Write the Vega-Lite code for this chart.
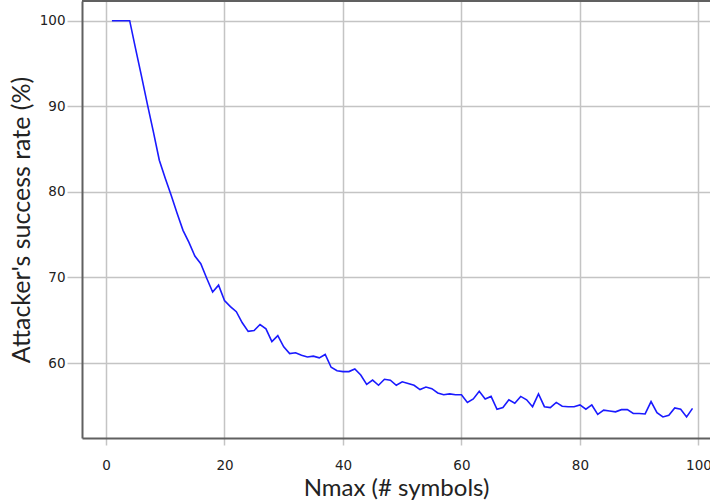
{
  "$schema": "https://vega.github.io/schema/vega-lite/v6.json",
  "autosize": {"type": "none"},
  "padding": {"left": 82, "top": 1, "right": 0, "bottom": 65},
  "width": 628,
  "height": 437,
  "background": "white",
  "config": {
    "view": {"stroke": null},
    "axis": {
      "gridColor": "#c4c4c4",
      "gridWidth": 1.5,
      "tickColor": "#c4c4c4",
      "tickWidth": 1.5,
      "domainColor": "#606060",
      "domainWidth": 2,
      "labelFont": "DejaVu Sans",
      "labelFontSize": 13.5,
      "labelColor": "#222222",
      "titleFont": "Lato",
      "titleFontWeight": "normal",
      "titleFontSize": 25,
      "titleColor": "#222222"
    }
  },
  "data": {
    "values": [
      {"n": 1, "rate": 100}, {"n": 2, "rate": 100}, {"n": 3, "rate": 100}, {"n": 4, "rate": 100},
      {"n": 5, "rate": 96.7}, {"n": 6, "rate": 93.5}, {"n": 7, "rate": 90.2}, {"n": 8, "rate": 87.0},
      {"n": 9, "rate": 83.7}, {"n": 10, "rate": 81.6}, {"n": 11, "rate": 79.6}, {"n": 12, "rate": 77.5},
      {"n": 13, "rate": 75.5}, {"n": 14, "rate": 74.1}, {"n": 15, "rate": 72.5}, {"n": 16, "rate": 71.6},
      {"n": 17, "rate": 69.9}, {"n": 18, "rate": 68.3}, {"n": 19, "rate": 69.1}, {"n": 20, "rate": 67.3},
      {"n": 21, "rate": 66.6}, {"n": 22, "rate": 66.0}, {"n": 23, "rate": 64.7}, {"n": 24, "rate": 63.7},
      {"n": 25, "rate": 63.8}, {"n": 26, "rate": 64.5}, {"n": 27, "rate": 64.0}, {"n": 28, "rate": 62.5},
      {"n": 29, "rate": 63.2}, {"n": 30, "rate": 61.9}, {"n": 31, "rate": 61.1}, {"n": 32, "rate": 61.2},
      {"n": 33, "rate": 60.9}, {"n": 34, "rate": 60.7}, {"n": 35, "rate": 60.8}, {"n": 36, "rate": 60.6},
      {"n": 37, "rate": 61.0}, {"n": 38, "rate": 59.5}, {"n": 39, "rate": 59.1}, {"n": 40, "rate": 59.0},
      {"n": 41, "rate": 59.0}, {"n": 42, "rate": 59.3}, {"n": 43, "rate": 58.6}, {"n": 44, "rate": 57.5},
      {"n": 45, "rate": 58.0}, {"n": 46, "rate": 57.4}, {"n": 47, "rate": 58.1}, {"n": 48, "rate": 58.0},
      {"n": 49, "rate": 57.4}, {"n": 50, "rate": 57.8}, {"n": 51, "rate": 57.6}, {"n": 52, "rate": 57.4},
      {"n": 53, "rate": 56.9}, {"n": 54, "rate": 57.2}, {"n": 55, "rate": 57.0}, {"n": 56, "rate": 56.5},
      {"n": 57, "rate": 56.3}, {"n": 58, "rate": 56.4}, {"n": 59, "rate": 56.3}, {"n": 60, "rate": 56.3},
      {"n": 61, "rate": 55.4}, {"n": 62, "rate": 55.8}, {"n": 63, "rate": 56.7}, {"n": 64, "rate": 55.8},
      {"n": 65, "rate": 56.1}, {"n": 66, "rate": 54.6}, {"n": 67, "rate": 54.8}, {"n": 68, "rate": 55.7},
      {"n": 69, "rate": 55.3}, {"n": 70, "rate": 56.1}, {"n": 71, "rate": 55.7}, {"n": 72, "rate": 54.9},
      {"n": 73, "rate": 56.4}, {"n": 74, "rate": 54.9}, {"n": 75, "rate": 54.8}, {"n": 76, "rate": 55.4},
      {"n": 77, "rate": 54.95}, {"n": 78, "rate": 54.9}, {"n": 79, "rate": 54.9}, {"n": 80, "rate": 55.1},
      {"n": 81, "rate": 54.6}, {"n": 82, "rate": 55.1}, {"n": 83, "rate": 54.0}, {"n": 84, "rate": 54.5},
      {"n": 85, "rate": 54.4}, {"n": 86, "rate": 54.3}, {"n": 87, "rate": 54.55}, {"n": 88, "rate": 54.55},
      {"n": 89, "rate": 54.1}, {"n": 90, "rate": 54.1}, {"n": 91, "rate": 54.05}, {"n": 92, "rate": 55.5},
      {"n": 93, "rate": 54.2}, {"n": 94, "rate": 53.7}, {"n": 95, "rate": 53.9}, {"n": 96, "rate": 54.75},
      {"n": 97, "rate": 54.6}, {"n": 98, "rate": 53.7}, {"n": 99, "rate": 54.7}
    ]
  },
  "layer": [
    {
      "mark": {"type": "line", "color": "#1a1aff", "strokeWidth": 1.6, "clip": true},
      "encoding": {
        "x": {
          "field": "n", "type": "quantitative",
          "scale": {"domain": [-4.05, 101.95], "nice": false, "zero": false},
          "axis": {"values": [0, 20, 40, 60, 80, 100], "title": "Nmax (# symbols)", "tickSize": 7, "labelPadding": 13, "titlePadding": 5, "titleFontSize": 24, "labelFlush": false}
        },
        "y": {
          "field": "rate", "type": "quantitative",
          "scale": {"domain": [51.24, 102.3], "nice": false, "zero": false},
          "axis": {"values": [60, 70, 80, 90, 100], "title": "Attacker's success rate (%)", "tickSize": 15, "labelPadding": 2, "titlePadding": 5, "labelFlush": false}
        }
      }
    },
    {
      "mark": {"type": "rule", "color": "#606060", "strokeWidth": 2},
      "encoding": {"y": {"datum": 102.3}}
    }
  ]
}
